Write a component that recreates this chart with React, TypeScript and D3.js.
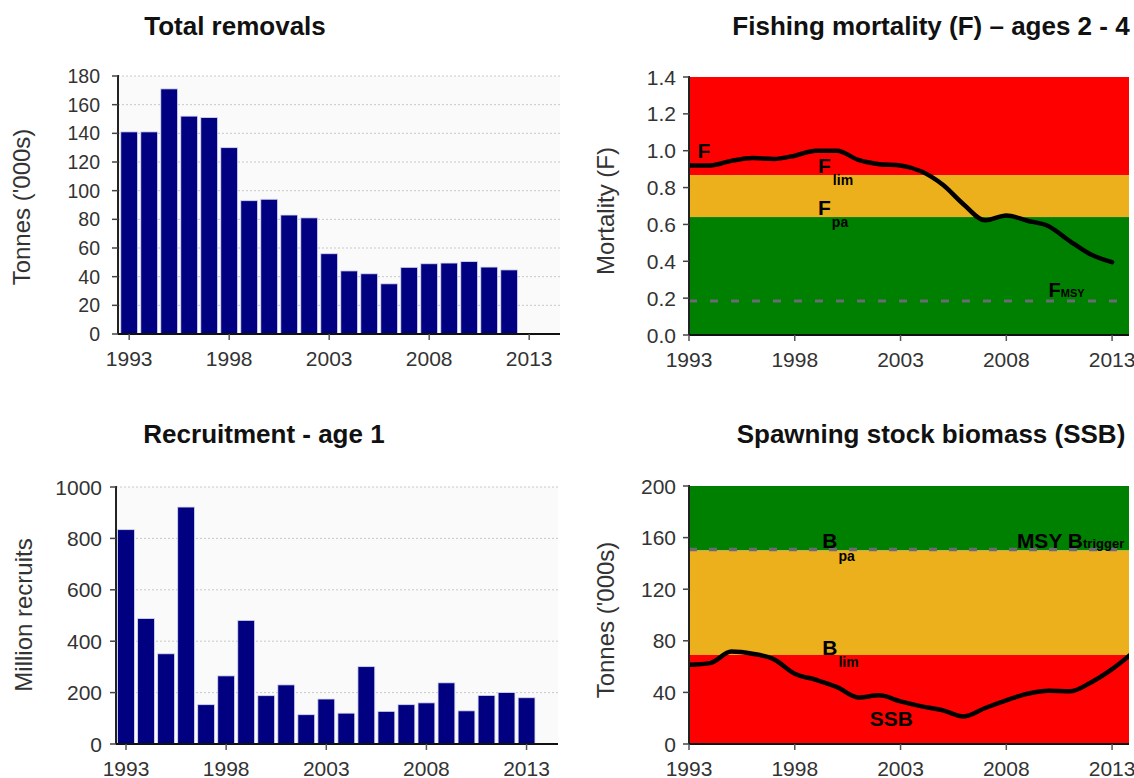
import React from 'react';
import * as d3 from 'd3';

const FONT = '"Liberation Sans", Arial, Helvetica, sans-serif';

// ---------- data ----------
const removalYears = [1993, 1994, 1995, 1996, 1997, 1998, 1999, 2000, 2001, 2002, 2003, 2004, 2005, 2006, 2007, 2008, 2009, 2010, 2011, 2012];
const removals = [141, 141, 171, 152, 151, 130, 93, 94, 83, 81, 56, 44, 42, 35, 46.5, 49, 49.5, 50.5, 46.7, 44.7];
const removalTicks = [0, 20, 40, 60, 80, 100, 120, 140, 160, 180];

const recruitYears = [1993, 1994, 1995, 1996, 1997, 1998, 1999, 2000, 2001, 2002, 2003, 2004, 2005, 2006, 2007, 2008, 2009, 2010, 2011, 2012, 2013];
const recruits = [834, 488, 351, 922, 153, 265, 481, 188, 230, 114, 175, 120, 301, 127, 153, 160, 238, 129, 189, 200, 180];
const recruitTicks = [0, 200, 400, 600, 800, 1000];

const fYears = [1993, 1994, 1995, 1996, 1997, 1998, 1999, 2000, 2001, 2002, 2003, 2004, 2005, 2006, 2007, 2008, 2009, 2010, 2011, 2012, 2013];
const fValues = [0.92, 0.92, 0.945, 0.96, 0.955, 0.973, 1.0, 1.0, 0.95, 0.927, 0.92, 0.887, 0.815, 0.707, 0.622, 0.648, 0.62, 0.59, 0.51, 0.437, 0.395];
const fTicks = [0, 0.2, 0.4, 0.6, 0.8, 1.0, 1.2, 1.4];
const fMax = 1.4;
const fLim = 0.868;
const fPa = 0.64;
const fMsy = 0.185;

const ssbYears = [1993, 1994, 1995, 1996, 1997, 1998, 1999, 2000, 2001, 2002, 2003, 2004, 2005, 2006, 2007, 2008, 2009, 2010, 2011, 2012, 2013, 2014];
const ssbValues = [61.4, 62.7, 71.7, 70, 65.8, 54.5, 49.8, 44.1, 36.1, 37.7, 33, 29.2, 26.1, 21.4, 27.9, 33.8, 39, 41.3, 40.8, 47.7, 58, 71];
const ssbTicks = [0, 40, 80, 120, 160, 200];
const ssbMax = 200;
const bLim = 69;
const bPa = 150;

const yearTicks = [1993, 1998, 2003, 2008, 2013];

// ---------- colours ----------
const NAVY = '#000080';
const RED = '#ff0000';
const ORANGE = '#ebb01b';
const GREEN = '#008000';
const DASH = '#6b6b78';

function YAxis({ frame, y, ticks, fmt, size, gap }: any) {
  return (
    <g>
      <line x1={frame.left} x2={frame.left} y1={frame.top - 1} y2={frame.bottom} stroke="#222" strokeWidth={2} />
      {ticks.map((t: number) => (
        <g key={t}>
          <line x1={frame.left - 6} x2={frame.left} y1={y(t)} y2={y(t)} stroke="#444" strokeWidth={1.5} />
          <text x={frame.left - gap} y={y(t)} dy="0.36em" textAnchor="end" fontSize={size} fill="#333" fontFamily={FONT}>
            {fmt(t)}
          </text>
        </g>
      ))}
    </g>
  );
}

function XAxis({ frame, x, size }: any) {
  return (
    <g>
      <line x1={frame.left} x2={frame.right} y1={frame.bottom} y2={frame.bottom} stroke="#111" strokeWidth={2.2} />
      {yearTicks.map((t) => (
        <g key={t}>
          <line x1={x(t)} x2={x(t)} y1={frame.bottom} y2={frame.bottom + 6} stroke="#555" strokeWidth={1.5} />
          <text x={x(t)} y={frame.bottom + 32} textAnchor="middle" fontSize={size} fill="#333" fontFamily={FONT}>
            {t}
          </text>
        </g>
      ))}
    </g>
  );
}

function BarPanel({ frame, years, values, max, ticks, ytSize }: any) {
  const x = d3.scaleLinear().domain([frame.x0, frame.x1]).range([frame.left, frame.right]);
  const y = d3.scaleLinear().domain([0, max]).range([frame.bottom, frame.top]);
  const half = 0.42;
  return (
    <g>
      <rect x={frame.left} y={frame.top} width={frame.right - frame.left} height={frame.bottom - frame.top} fill="#fafafa" />
      {ticks.filter((t: number) => t > 0).map((t: number) => (
        <line key={t} x1={frame.left} x2={frame.right} y1={y(t)} y2={y(t)} stroke="#c8c8c8" strokeWidth={1} strokeDasharray="2,2" />
      ))}
      {years.map((yr: number, i: number) => (
        <rect
          key={yr}
          x={x(yr - half)}
          y={y(values[i])}
          width={x(yr + half) - x(yr - half)}
          height={frame.bottom - y(values[i])}
          fill={NAVY}
          stroke="#d8d8f0"
          strokeWidth={0.8}
        />
      ))}
      <YAxis frame={frame} y={y} ticks={ticks} fmt={(t: number) => String(t)} size={ytSize} gap={frame.gap} />
      <XAxis frame={frame} x={x} size={21} />
    </g>
  );
}

export default function App() {
  const tl: any = { left: 118, right: 560, top: 76, bottom: 334, x0: 1992.44, x1: 2014.54, gap: 18 };
  const bl: any = { left: 116, right: 558, top: 487, bottom: 744, x0: 1992.5, x1: 2014.57, gap: 14 };
  const tr: any = { left: 689, right: 1129, top: 77, bottom: 335, x0: 1993, x1: 2013.8, gap: 13 };
  const br: any = { left: 689, right: 1129, top: 486, bottom: 744, x0: 1993, x1: 2013.8, gap: 13 };

  const xF = d3.scaleLinear().domain([tr.x0, tr.x1]).range([tr.left, tr.right]);
  const yF = d3.scaleLinear().domain([0, fMax]).range([tr.bottom, tr.top]);
  const xS = d3.scaleLinear().domain([br.x0, br.x1]).range([br.left, br.right]);
  const yS = d3.scaleLinear().domain([0, ssbMax]).range([br.bottom, br.top]);

  const fLine = d3.line<number>().x((_, i) => xF(fYears[i])).y((d) => yF(d)).curve(d3.curveMonotoneX);
  const sLine = d3.line<number>().x((_, i) => xS(ssbYears[i])).y((d) => yS(d)).curve(d3.curveMonotoneX);

  const titleStyle: any = { fontFamily: FONT, fontWeight: 'bold', fontSize: 26, fill: '#111' };
  const labStyle: any = { fontFamily: FONT, fontSize: 24, fill: '#333' };
  const refStyle: any = { fontFamily: FONT, fontWeight: 'bold', fontSize: 21, fill: '#000' };
  const subStyle: any = { fontFamily: FONT, fontWeight: 'bold', fontSize: 14, fill: '#000' };

  return (
    <svg width={1134} height={778} style={{ position: 'absolute', left: 0, top: 0, background: '#fff' }}>
      <defs>
        <clipPath id="clipF">
          <rect x={tr.left} y={tr.top} width={tr.right - tr.left} height={tr.bottom - tr.top} />
        </clipPath>
        <clipPath id="clipS">
          <rect x={br.left} y={br.top} width={br.right - br.left} height={br.bottom - br.top} />
        </clipPath>
      </defs>

      {/* ---------- Total removals ---------- */}
      <text x={235} y={35} textAnchor="middle" {...titleStyle}>Total removals</text>
      <text transform={`translate(30,207) rotate(-90)`} textAnchor="middle" {...labStyle}>Tonnes ('000s)</text>
      <BarPanel frame={tl} years={removalYears} values={removals} max={180} ticks={removalTicks} ytSize={19.5} />

      {/* ---------- Recruitment ---------- */}
      <text x={264} y={443} textAnchor="middle" {...titleStyle}>Recruitment - age 1</text>
      <text transform={`translate(32,615) rotate(-90)`} textAnchor="middle" {...labStyle}>Million recruits</text>
      <BarPanel frame={bl} years={recruitYears} values={recruits} max={1000} ticks={recruitTicks} ytSize={21} />

      {/* ---------- Fishing mortality ---------- */}
      <text x={931} y={35} textAnchor="middle" {...titleStyle}>Fishing mortality (F) – ages 2 - 4</text>
      <text transform={`translate(614,211) rotate(-90)`} textAnchor="middle" {...labStyle}>Mortality (F)</text>
      <g clipPath="url(#clipF)">
        <rect x={tr.left} y={yF(fMax)} width={tr.right - tr.left} height={yF(fLim) - yF(fMax)} fill={RED} />
        <rect x={tr.left} y={yF(fLim)} width={tr.right - tr.left} height={yF(fPa) - yF(fLim)} fill={ORANGE} />
        <rect x={tr.left} y={yF(fPa)} width={tr.right - tr.left} height={yF(0) - yF(fPa)} fill={GREEN} />
        <line x1={tr.left} x2={tr.right} y1={yF(fMsy)} y2={yF(fMsy)} stroke={DASH} strokeWidth={3} strokeDasharray="8,13" />
        <path d={fLine(fValues) || ''} fill="none" stroke="#000" strokeWidth={4.5} strokeLinejoin="round" strokeLinecap="round" />
      </g>
      <text x={xF(1993.4)} y={yF(0.96)} {...refStyle}>F</text>
      <text x={xF(1999.1)} y={yF(0.88)} {...refStyle}>F<tspan dx={2} dy={12} {...subStyle}>lim</tspan></text>
      <text x={xF(1999.1)} y={yF(0.65)} {...refStyle}>F<tspan dx={1} dy={12} {...subStyle}>pa</tspan></text>
      <text x={xF(2010.0)} y={yF(0.205)} {...refStyle} fontSize={20}>F<tspan fontSize={11}>MSY</tspan></text>
      <YAxis frame={tr} y={yF} ticks={fTicks} fmt={(t: number) => t.toFixed(1)} size={21} gap={tr.gap} />
      <XAxis frame={tr} x={xF} size={21} />

      {/* ---------- SSB ---------- */}
      <text x={931} y={443} textAnchor="middle" {...titleStyle}>Spawning stock biomass (SSB)</text>
      <text transform={`translate(614,620) rotate(-90)`} textAnchor="middle" {...labStyle}>Tonnes ('000s)</text>
      <g clipPath="url(#clipS)">
        <rect x={br.left} y={yS(ssbMax)} width={br.right - br.left} height={yS(bPa) - yS(ssbMax)} fill={GREEN} />
        <rect x={br.left} y={yS(bPa)} width={br.right - br.left} height={yS(bLim) - yS(bPa)} fill={ORANGE} />
        <rect x={br.left} y={yS(bLim)} width={br.right - br.left} height={yS(0) - yS(bLim)} fill={RED} />
        <line x1={br.left} x2={br.right} y1={yS(bPa) - 1} y2={yS(bPa) - 1} stroke={DASH} strokeWidth={3.5} strokeDasharray="8,12" />
        <path d={sLine(ssbValues) || ''} fill="none" stroke="#000" strokeWidth={4.5} strokeLinejoin="round" strokeLinecap="round" />
      </g>
      <text x={xS(1999.3)} y={yS(152)} {...refStyle}>B<tspan dx={1} dy={13} {...subStyle}>pa</tspan></text>
      <text x={xS(2008.5)} y={yS(152)} {...refStyle}>MSY B<tspan fontSize={13}>trigger</tspan></text>
      <text x={xS(1999.3)} y={yS(69)} {...refStyle}>B<tspan dx={1} dy={12} {...subStyle}>lim</tspan></text>
      <text x={xS(2001.55)} y={yS(14)} {...refStyle}>SSB</text>
      <YAxis frame={br} y={yS} ticks={ssbTicks} fmt={(t: number) => String(t)} size={21} gap={br.gap} />
      <XAxis frame={br} x={xS} size={21} />
    </svg>
  );
}
